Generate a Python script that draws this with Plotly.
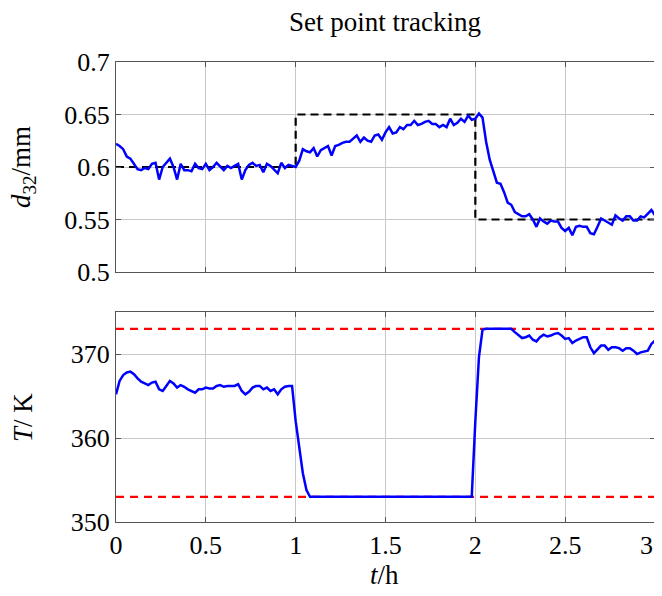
import numpy as np
import plotly.graph_objects as go
from plotly.subplots import make_subplots

# time axis (h), 0.02 h sampling
t = np.round(np.linspace(0, 3, 151), 3)

d32 = [
    0.622, 0.620, 0.617, 0.610, 0.608, 0.603, 0.598, 0.597, 0.599, 0.598,
    0.603, 0.604, 0.588, 0.600, 0.604, 0.608, 0.600, 0.588, 0.603, 0.597,
    0.597, 0.596, 0.603, 0.599, 0.598, 0.603, 0.597, 0.600, 0.604, 0.600,
    0.597, 0.601, 0.599, 0.601, 0.603, 0.588, 0.597, 0.602, 0.604, 0.601,
    0.602, 0.595, 0.603, 0.601, 0.597, 0.594, 0.604, 0.599, 0.602, 0.601,
    0.600,
    0.606, 0.617, 0.615, 0.614, 0.618, 0.610, 0.616, 0.618, 0.620, 0.611,
    0.620, 0.621, 0.623, 0.624, 0.624, 0.627, 0.630, 0.624, 0.628, 0.625,
    0.624, 0.630, 0.631, 0.626, 0.633, 0.638, 0.632, 0.633, 0.638, 0.636,
    0.640, 0.640, 0.644, 0.640, 0.641, 0.643, 0.644, 0.641, 0.641, 0.638,
    0.640, 0.638, 0.646, 0.640, 0.642, 0.646, 0.643, 0.649, 0.645, 0.646,
    0.651, 0.647, 0.624, 0.607, 0.597, 0.585, 0.584, 0.576, 0.566, 0.564,
    0.557, 0.555, 0.553, 0.553, 0.555, 0.550, 0.543, 0.551, 0.548, 0.546,
    0.549, 0.548, 0.548, 0.542, 0.539, 0.542, 0.535, 0.543, 0.544, 0.543,
    0.543, 0.537, 0.536, 0.543, 0.551, 0.549, 0.547, 0.545, 0.554, 0.551,
    0.549, 0.553, 0.553, 0.549, 0.549, 0.553, 0.552, 0.556, 0.559, 0.554,
]

T = [
    365.2, 366.8, 367.5, 367.8, 367.9, 367.6, 367.1, 366.7, 366.5, 366.3,
    366.6, 366.7, 365.8, 365.6, 366.2, 366.8, 366.5, 366.0, 366.3, 366.1,
    365.8, 365.6, 365.4, 365.8, 365.8, 366.0, 365.9, 365.9, 366.2, 366.3,
    366.1, 366.2, 366.2, 366.2, 366.4, 365.6, 365.2, 365.5, 366.0, 366.2,
    366.2, 365.8, 366.0, 365.6, 365.8, 365.2, 365.8, 366.1, 366.2, 366.2,
    362.0,
    359.0, 355.8, 353.8, 353.0, 353.0, 353.0, 353.0, 353.0, 353.0, 353.0,
    353.0, 353.0, 353.0, 353.0, 353.0, 353.0, 353.0, 353.0, 353.0, 353.0,
    353.0, 353.0, 353.0, 353.0, 353.0, 353.0, 353.0, 353.0, 353.0, 353.0,
    353.0, 353.0, 353.0, 353.0, 353.0, 353.0, 353.0, 353.0, 353.0, 353.0,
    353.0, 353.0, 353.0, 353.0, 353.0, 353.0, 353.0, 353.0, 353.0, 362.0,
    369.6, 372.9, 373.0, 373.0, 373.0, 373.0, 373.0, 373.0, 373.0, 373.0,
    372.6, 372.2, 371.9, 372.0, 372.2, 371.7, 371.5, 372.0, 372.3, 372.1,
    372.2, 372.4, 372.5, 372.2, 371.8, 371.9, 371.3, 371.6, 371.8, 372.0,
    372.0, 370.8, 370.1, 370.5, 371.0, 371.0, 370.5, 370.8, 370.8, 370.7,
    370.4, 370.7, 370.7, 370.4, 370.0, 370.2, 370.3, 370.4, 371.2, 371.6,
]

# set point trajectory
sp_t = [0, 1, 1, 2, 2, 3]
sp_d32 = [0.60, 0.60, 0.65, 0.65, 0.55, 0.55]

# temperature bounds
lim_t = [0, 3]
T_min = 353
T_max = 373

x_ticks = [0, 0.5, 1, 1.5, 2, 2.5, 3]
x_ticklabels = ["0", "0.5", "1", "1.5", "2", "2.5", "3"]
y1_ticks = [0.5, 0.55, 0.6, 0.65, 0.7]
y1_ticklabels = ["0.5", "0.55", "0.6", "0.65", "0.7"]
y2_ticks = [350, 360, 370]

FONT = "Liberation Serif"
FRAME = "#555555"
GRID = "#c8c8c8"
TFONT = dict(family=FONT, size=27, color="black")
TICKFONT = dict(family=FONT, size=26, color="black")

fig = make_subplots(rows=2, cols=1, shared_xaxes=False, vertical_spacing=0.087)

fig.add_trace(go.Scatter(x=sp_t, y=sp_d32, mode="lines",
                         line=dict(color="black", width=2.2, dash="8px,5px")), row=1, col=1)
fig.add_trace(go.Scatter(x=t, y=d32, mode="lines",
                         line=dict(color="#0000ff", width=2.5)), row=1, col=1)

fig.add_trace(go.Scatter(x=lim_t, y=[T_max, T_max], mode="lines",
                         line=dict(color="#ff0000", width=2.2, dash="8px,6px")), row=2, col=1)
fig.add_trace(go.Scatter(x=lim_t, y=[T_min, T_min], mode="lines",
                         line=dict(color="#ff0000", width=2.2, dash="8px,6px")), row=2, col=1)
fig.add_trace(go.Scatter(x=t, y=T, mode="lines",
                         line=dict(color="#0000ff", width=2.5)), row=2, col=1)

axis_common = dict(showline=True, linecolor=FRAME, linewidth=1.2, mirror="allticks",
                   ticks="inside", ticklen=5, tickcolor=FRAME,
                   showgrid=True, gridcolor=GRID, gridwidth=1, zeroline=False,
                   automargin=False, ticklabeloverflow="allow",
                   tickfont=TICKFONT)

# last x label is drawn as an annotation, right-aligned so it stays inside the page
x_axis_text = x_ticklabels[:-1] + [""]

fig.update_xaxes(range=[0, 3], tickvals=x_ticks, ticktext=x_axis_text, **axis_common)
fig.update_xaxes(showticklabels=False, row=1, col=1)

fig.update_yaxes(**axis_common)
fig.update_yaxes(range=[0.5, 0.7], tickvals=y1_ticks, ticktext=y1_ticklabels, row=1, col=1)
fig.update_yaxes(range=[350, 375], tickvals=y2_ticks, row=2, col=1)

# the page adds an 8 px body margin on every side, so the figure is drawn smaller
fig.update_layout(
    width=654, height=580,
    margin=dict(l=108, r=7, t=54, b=66, autoexpand=False),
    paper_bgcolor="white", plot_bgcolor="white",
    showlegend=False,
    title=dict(text="Set point tracking", x=377 / 654, xanchor="center",
               xref="container", yref="container", y=1 - 14 / 580, yanchor="middle",
               font=TFONT),
    annotations=[
        dict(text="<i>d</i><sub>32</sub>/mm", textangle=-90, xref="paper", yref="paper",
             x=-0.1725, y=0.772, xanchor="center", yanchor="middle", showarrow=False, font=TFONT),
        dict(text="<i>T</i>/ K", textangle=-90, xref="paper", yref="paper",
             x=-0.1725, y=0.226, xanchor="center", yanchor="middle", showarrow=False, font=TFONT),
        dict(text="<i>t</i>/h", xref="paper", yref="paper",
             x=0.499, y=-0.115, xanchor="center", yanchor="middle", showarrow=False, font=TFONT),
        dict(text=x_ticklabels[-1], xref="x2", yref="paper", x=x_ticks[-1], y=-0.05,
             xanchor="right", yanchor="middle", showarrow=False, font=TICKFONT),
    ],
)

fig.write_html("out.html")
